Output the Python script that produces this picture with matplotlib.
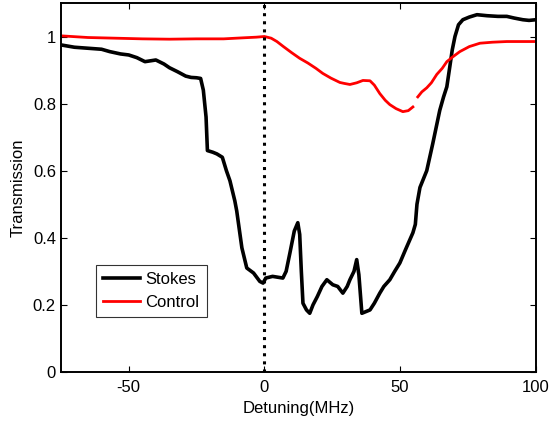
"""Stokes / control transmission versus detuning."""

import matplotlib

matplotlib.use("Agg")

import numpy as np  # noqa: E402
from matplotlib import pyplot as plt  # noqa: E402
from matplotlib.ticker import FormatStrFormatter  # noqa: E402

plt.rcParams["font.family"] = ["Liberation Sans", "DejaVu Sans"]
plt.rcParams["axes.unicode_minus"] = False

# values
stokes_x = [
    -75, -70, -65, -60, -57, -53, -50, -47, -44, -40, -37, -35, -32, -29,
    -27, -25, -23.5, -22.5, -21.5, -21, -19, -17.5, -15.5, -14, -12.7, -10.9,
    -10.2, -8.3, -6.5, -4, -1.7, -0.5, 0.5, 3, 6.8, 8, 9.4, 11, 12.3, 13,
    13.6, 14.2, 15.5, 16.7, 17.9, 19.5, 21.2, 23, 25.2, 27, 28.9, 30.5, 31.5,
    33, 34, 34.8, 35.9, 38.9, 40.5, 42.5, 44, 46.2, 48, 49.9, 52, 54.7, 55.6,
    56.2, 57.3, 59.8, 62, 64.6, 66, 67.2, 68.3, 69.2, 70.2, 71.5, 73.1, 75.5,
    78.3, 82, 86, 89.3, 92, 95.2, 97.5, 100,
]
stokes_y = [
    0.975, 0.968, 0.965, 0.962, 0.955, 0.948, 0.945, 0.937, 0.925, 0.93,
    0.918, 0.907, 0.895, 0.882, 0.878, 0.877, 0.875, 0.84, 0.76, 0.66, 0.655,
    0.65, 0.64, 0.6, 0.57, 0.51, 0.48, 0.37, 0.31, 0.295, 0.27, 0.265, 0.28,
    0.285, 0.28, 0.3, 0.355, 0.42, 0.445, 0.41, 0.3, 0.205, 0.185, 0.175,
    0.2, 0.225, 0.255, 0.275, 0.26, 0.255, 0.235, 0.255, 0.275, 0.3, 0.335,
    0.29, 0.175, 0.185, 0.205, 0.235, 0.255, 0.275, 0.3, 0.325, 0.365, 0.415,
    0.44, 0.5, 0.55, 0.6, 0.68, 0.78, 0.82, 0.85, 0.91, 0.96, 1.0, 1.035,
    1.05, 1.058, 1.065, 1.062, 1.06, 1.06, 1.055, 1.05, 1.048, 1.05,
]

control_x = [
    -75, -65, -55, -45, -35, -25, -15, -8, -3, 0, 2.5, 4.6, 7, 10, 13, 16,
    19, 21.5, 24.5, 27.8, 29.5, 31.5, 34, 36.3, 38.9, 40.5, 42.5, 44.5, 46.2,
    48.5, 51, 53, 54.7, 55.4, 56.5, 58, 59.8, 61.5, 63.5, 65.5, 67.2, 69.5,
    72, 75.5, 79.4, 84, 89.3, 95, 100,
]
control_y = [
    1.002, 0.997, 0.995, 0.993, 0.992, 0.993, 0.993, 0.996, 0.998, 1.0,
    0.995, 0.985, 0.97, 0.952, 0.935, 0.921, 0.905, 0.89, 0.876, 0.863,
    0.86, 0.857, 0.862, 0.869, 0.868, 0.855, 0.83, 0.81, 0.797, 0.785, 0.776,
    0.779, 0.79, np.nan, 0.82, 0.835, 0.847, 0.862, 0.887, 0.905, 0.925,
    0.94, 0.955, 0.97, 0.98, 0.983, 0.985, 0.985, 0.985,
]

x_ticks = [-50, 0, 50, 100]
y_ticks = [0, 0.2, 0.4, 0.6, 0.8, 1.0]

fig = plt.figure(figsize=(5.53, 4.22), dpi=100)
ax = fig.add_axes([0.110, 0.1185, 0.859, 0.8745])

ax.plot(stokes_x, stokes_y, color="black", linewidth=2.6, label="Stokes")
ax.plot(control_x, control_y, color="#ff0000", linewidth=2.0, label="Control")
ax.axvline(0, color="black", linestyle=":", linewidth=2.2)

ax.set_xlim(-75, 100)
ax.set_ylim(0, 1.1)
ax.set_xticks(x_ticks)
ax.set_yticks(y_ticks)
ax.yaxis.set_major_formatter(FormatStrFormatter("%g"))
ax.tick_params(direction="in", top=True, right=True, labelsize=12, length=4)
ax.tick_params(axis="x", pad=6)
for spine in ax.spines.values():
    spine.set_linewidth(1.4)

ax.set_xlabel("Detuning(MHz)", fontsize=12, labelpad=4)
ax.set_ylabel("Transmission", fontsize=12, labelpad=5)

legend = ax.legend(
    loc="lower left",
    bbox_to_anchor=(0.074, 0.149),
    fontsize=12,
    fancybox=False,
    handlelength=2.2,
    handletextpad=0.3,
    borderpad=0.45,
    labelspacing=0.45,
    borderaxespad=0,
)
legend.get_frame().set_edgecolor("black")
legend.get_frame().set_linewidth(0.8)

fig.savefig("out.png", dpi=100)
plt.close(fig)
